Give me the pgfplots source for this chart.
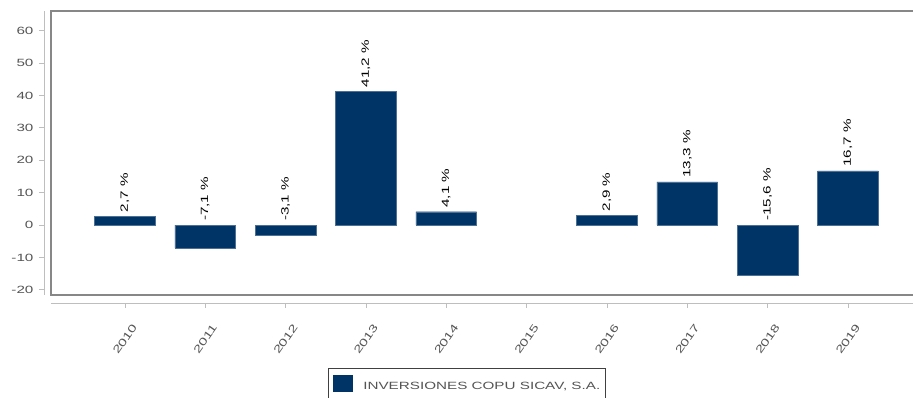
\documentclass[border=0pt]{standalone}
\usepackage{pgfplots}
\pgfplotsset{compat=1.18}
\usepackage{fontspec}
\setmainfont[FakeStretch=1.45]{Liberation Sans}
\definecolor{barcol}{RGB}{0,51,102}
\definecolor{framecol}{RGB}{135,135,135}
\definecolor{axcol}{RGB}{190,190,190}
\definecolor{txtcol}{RGB}{85,85,85}
\begin{document}
\begin{tikzpicture}
\begin{axis}[name=ax, at={(0,0)}, anchor=south west,
  scale only axis, width=862pt, height=284.2pt,
  xmin=-0.92, xmax=9.81, ymin=-21.5, ymax=66.2,
  axis lines=left, axis line style={-, draw=axcol, line width=0.8pt},
  axis x line shift=8.3pt, axis y line shift=7pt,
  tick align=outside, major tick length=5pt,
  tick style={draw=axcol, line width=0.8pt},
  xtick={0,1,2,3,4,5,6,7,8,9},
  xticklabels={2010,2011,2012,2013,2014,2015,2016,2017,2018,2019},
  ytick={-20,-10,0,10,20,30,40,50,60},
  ticklabel style={font=\fontsize{10.5}{12}\selectfont, text=txtcol},
  yticklabel style={xshift=-2pt},
  /pgf/number format/assume math mode=true,
  xticklabel style={yshift=-31pt, rotate=55, anchor=center},
  clip=false,
  legend style={at={(0.3213,-0.258)}, anchor=north west, draw=black!75,
    line width=0.8pt, font=\fontsize{10.5}{12}\selectfont, text=txtcol,
    inner xsep=3pt, inner ysep=7pt, nodes={inner sep=2pt}},
]
\draw[framecol, line width=2pt] (rel axis cs:1,1) -- (rel axis cs:0,1) -- (rel axis cs:0,0) -- (rel axis cs:1,0);
\addplot[ybar, bar width=60.7pt, bar shift=0pt, fill=barcol, draw=barcol!70!white, line width=0.3pt,
  legend image code/.code={\path[draw=none, fill=none] (0pt,0pt) -- (30pt,0pt); \fill[barcol] (2pt,-4.5pt) rectangle (21pt,11.5pt);}]
  coordinates {(0,2.7) (1,-7.1) (2,-3.1) (3,41.2) (4,4.1) (6,2.9) (7,13.3) (8,-15.6) (9,16.7)};
\addlegendentry{INVERSIONES COPU SICAV, S.A.}
\addplot[draw=none, mark=none, forget plot, point meta=explicit symbolic, nodes near coords,
  nodes near coords style={rotate=90, anchor=west, inner xsep=4pt, inner ysep=0pt,
    font=\fontsize{10.5}{12}\selectfont, text=black}]
  coordinates {(0,2.7) [2,7 \%] (1,0) [-7,1 \%] (2,0) [-3,1 \%] (3,41.2) [41,2 \%] (4,4.1) [4,1 \%]
    (6,2.9) [2,9 \%] (7,13.3) [13,3 \%] (8,0) [-15,6 \%] (9,16.7) [16,7 \%]};
\end{axis}
\pgfresetboundingbox
\path[use as bounding box] ([shift={(-51pt,-103.3pt)}]ax.south west) rectangle ([shift={(0pt,10.5pt)}]ax.north east);
\end{tikzpicture}
\end{document}
